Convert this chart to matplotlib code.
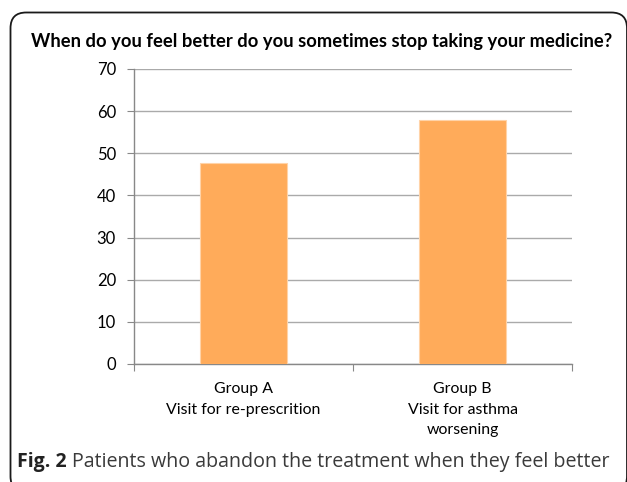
import matplotlib
matplotlib.use("Agg")
import matplotlib.pyplot as plt
from matplotlib.patches import FancyBboxPatch

categories = ["Group A\nVisit for re-prescrition", "Group B\nVisit for asthma\nworsening"]
values = [47.6, 58.0]
yticks = [0, 10, 20, 30, 40, 50, 60, 70]
title = "When do you feel better do you sometimes stop taking your medicine?"

W, H = 627, 482
fig = plt.figure(figsize=(W / 100, H / 100), dpi=100)

def fx(px):
    return px / W

def fy(py):
    return 1 - py / H

# rounded frame (right and bottom edges fall at the image border)
frame = FancyBboxPatch((fx(10.5), fy(492)), fx(627) - fx(10.5), fy(12.5) - fy(492),
                       boxstyle="round,pad=0,rounding_size=0.025",
                       transform=fig.transFigure, fill=False, edgecolor="#1a1a1a",
                       linewidth=1.3, mutation_aspect=W / H, clip_on=False)
fig.patches.append(frame)

ax = fig.add_axes([fx(134), fy(364), fx(572) - fx(134), fy(69) - fy(364)])
x = list(range(len(categories)))
ax.bar(x, values, width=0.4, color="#FFAB5A", edgecolor="#FFD3A8", linewidth=0.8, zorder=3)
ax.set_xlim(-0.5, len(categories) - 0.5)
ax.set_ylim(0, 70)
ax.set_yticks(yticks)
ax.set_yticklabels([str(v) for v in yticks], fontsize=12, family="Lato")
ax.yaxis.grid(True, color="#AAAAAA", linewidth=1.0, zorder=0)
for s in ["top", "right"]:
    ax.spines[s].set_visible(False)
for s in ["left", "bottom"]:
    ax.spines[s].set_color("#888888")
    ax.spines[s].set_linewidth(1.0)
ax.tick_params(axis="y", length=5, color="#888888", pad=8)
ax.set_xticks([-0.5, 0.5, 1.5])
ax.set_xticklabels([])
ax.tick_params(axis="x", length=5, color="#888888", direction="out")
for i, lab in enumerate(categories):
    ax.text(i, -4.3, lab, ha="center", va="top", fontsize=11.4, family="Lato",
            linespacing=1.6, transform=ax.transData)

fig.text(fx(321.5), fy(41), title, ha="center", va="center", fontsize=13.2,
         fontweight="bold", family="Lato")

fig.text(fx(17), fy(462), "Fig. 2", ha="left", va="center", fontsize=14,
         fontweight="bold", family="Open Sans", color="#222222")
fig.text(fx(72), fy(462), "Patients who abandon the treatment when they feel better",
         ha="left", va="center", fontsize=14.1, family="Open Sans", color="#3a3a3a")

fig.savefig("out.png", dpi=100)
